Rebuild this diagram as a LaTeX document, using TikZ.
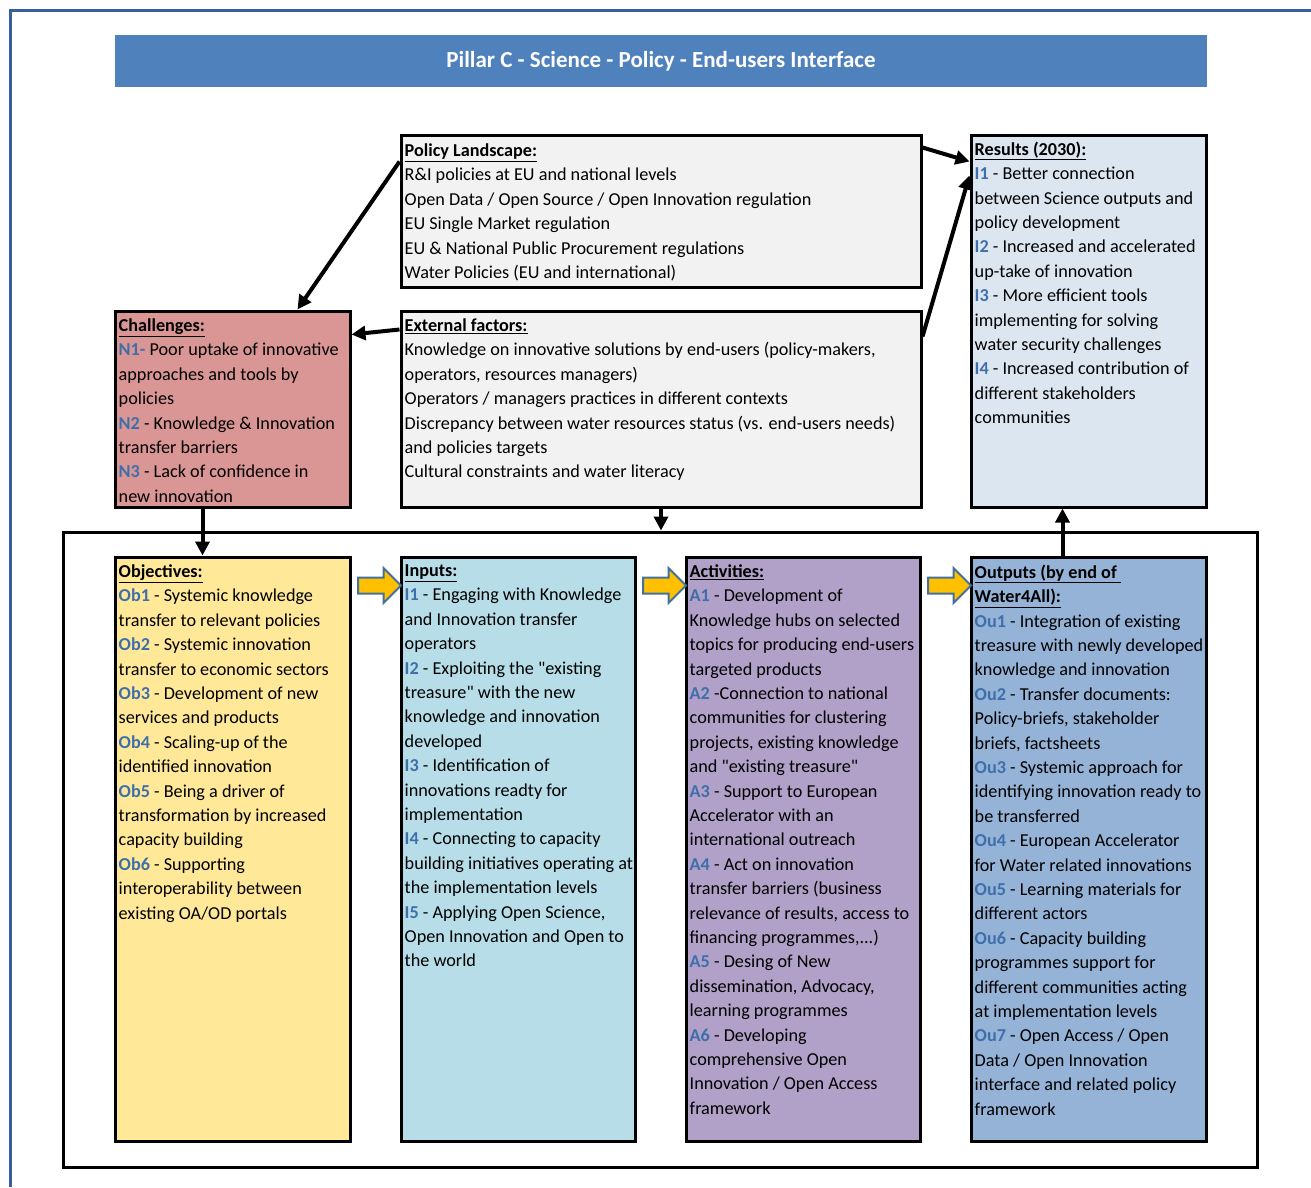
\documentclass[tikz,border=0pt]{standalone}
\usepackage{fontspec}
\setmainfont{Carlito}
\usepackage{xcolor}
\usepackage{tikz}
\usetikzlibrary{shapes,arrows.meta,positioning,calc}

\definecolor{pagefrm}{HTML}{3A5DA0}
\definecolor{pillar}{HTML}{4F81BD}
\definecolor{lblblue}{HTML}{3F6FAA}
\definecolor{greybox}{HTML}{F2F2F2}
\definecolor{resfill}{HTML}{DCE6F1}
\definecolor{chalfill}{HTML}{DA9694}
\definecolor{objfill}{HTML}{FFE999}
\definecolor{inpfill}{HTML}{B7DEE8}
\definecolor{actfill}{HTML}{B1A0C7}
\definecolor{outfill}{HTML}{95B3D7}
\definecolor{fatyellow}{HTML}{FFC000}
\definecolor{fatblue}{HTML}{41719C}

\newcommand{\lbl}[1]{\textcolor{lblblue}{\textbf{#1}}}
\newcommand{\hdr}[1]{\underline{\textbf{#1}}}
\newcommand{\qt}{\XeTeXglyph\XeTeXcharglyph"22\relax}

\begin{document}
\begin{tikzpicture}[x=1pt, y=-1pt,
    box/.style={draw, rectangle, line width=3pt, inner sep=0pt},
    txt/.style={anchor=north west, align=left, inner sep=0pt, font=\fontsize{18.2}{24.4}\selectfont},
    arr/.style={-{Triangle[length=14pt,width=14pt]}, line width=4pt},
    fat/.style={single arrow, draw=fatblue, fill=fatyellow, line width=2pt, inner sep=7pt,
                minimum height=43pt, single arrow head extend=9.5pt}
]
    \useasboundingbox (0,0) rectangle (1311,1187);

    % Page frame
    \draw[pagefrm, line width=3pt] (10,1187) -- (10,10) -- (1311,10);

    % Title bar
    \node[fill=pillar, minimum width=1092pt, minimum height=52pt, text=white,
          font=\fontsize{23}{26}\selectfont\bfseries] (title) at (661,61)
          {Pillar C - Science - Policy - End-users Interface};

    % Policy landscape
    \node[box, fill=greybox, minimum width=520pt, minimum height=152pt] (policy) at (661,211) {};
    \node[txt] (policytxt) at ([shift={(5pt,-10pt)}]policy.north west) {\hdr{Policy Landscape:}\\
        R\&I policies at EU and national levels\\
        Open Data / Open Source / Open Innovation regulation\\
        EU Single Market regulation\\
        EU \& National Public Procurement regulations\\
        Water Policies (EU and international)};

    % Results
    \node[box, fill=resfill, minimum width=235pt, minimum height=372pt] (results) at (1088.5,321) {};
    \node[txt] (resultstxt) at ([shift={(5pt,-8pt)}]results.north west) {\hdr{Results (2030):}\\
        \lbl{I1} - Better connection\\
        between Science outputs and\\
        policy development\\
        \lbl{I2} - Increased and accelerated\\
        up-take of innovation\\
        \lbl{I3} - More efficient tools\\
        implementing for solving\\
        water security challenges\\
        \lbl{I4} - Increased contribution of\\
        different stakeholders\\
        communities};

    % Challenges
    \node[box, fill=chalfill, minimum width=235pt, minimum height=196pt] (chal) at (232.5,409) {};
    \node[txt] (chaltxt) at ([shift={(5pt,-9pt)}]chal.north west) {\hdr{Challenges:}\\
        \lbl{N1-} Poor uptake of innovative\\
        approaches and tools by\\
        policies\\
        \lbl{N2} - Knowledge \& Innovation\\
        transfer barriers\\
        \lbl{N3} - Lack of confidence in\\
        new innovation};

    % External factors
    \node[box, fill=greybox, minimum width=520pt, minimum height=196pt] (ext) at (661,409) {};
    \node[txt] (exttxt) at ([shift={(5pt,-9pt)}]ext.north west) {\hdr{External factors:}\\
        Knowledge on innovative solutions by end-users (policy-makers,\\
        operators, resources managers)\\
        Operators / managers practices in different contexts\\
        Discrepancy between water resources status (vs. end-users needs)\\
        and policies targets\\
        Cultural constraints and water literacy};

    % Lower frame
    \node[box, minimum width=1194pt, minimum height=635pt] (frame) at (660,849.5) {};

    % Objectives
    \node[box, fill=objfill, minimum width=235pt, minimum height=584pt] (obj) at (232.5,849) {};
    \node[txt] (objtxt) at ([shift={(5pt,-9pt)}]obj.north west) {\hdr{Objectives:}\\
        \lbl{Ob1} - Systemic knowledge\\
        transfer to relevant policies\\
        \lbl{Ob2} - Systemic innovation\\
        transfer to economic sectors\\
        \lbl{Ob3} - Development of new\\
        services and products\\
        \lbl{Ob4} - Scaling-up of the\\
        identified innovation\\
        \lbl{Ob5} - Being a driver of\\
        transformation by increased\\
        capacity building\\
        \lbl{Ob6} - Supporting\\
        interoperability between\\
        existing OA/OD portals};

    % Inputs
    \node[box, fill=inpfill, minimum width=234pt, minimum height=584pt] (inp) at (518,849) {};
    \node[txt] (inptxt) at ([shift={(5pt,-9pt)}]inp.north west) {\hdr{Inputs:}\\
        \lbl{I1} - Engaging with Knowledge\\
        and Innovation transfer\\
        operators\\
        \lbl{I2} - Exploiting the \qt existing\\
        treasure\qt{} with the new\\
        knowledge and innovation\\
        developed\\
        \lbl{I3} - Identification of\\
        innovations readty for\\
        implementation\\
        \lbl{I4} - Connecting to capacity\\
        building initiatives operating at\\
        the implementation levels\\
        \lbl{I5} - Applying Open Science,\\
        Open Innovation and Open to\\
        the world};

    % Activities
    \node[box, fill=actfill, minimum width=234pt, minimum height=584pt] (act) at (803,849) {};
    \node[txt] (acttxt) at ([shift={(5pt,-9pt)}]act.north west) {\hdr{Activities:}\\
        \lbl{A1} - Development of\\
        Knowledge hubs on selected\\
        topics for producing end-users\\
        targeted products\\
        \lbl{A2} -Connection to national\\
        communities for clustering\\
        projects, existing knowledge\\
        and \qt existing treasure\qt\\
        \lbl{A3} - Support to European\\
        Accelerator with an\\
        international outreach\\
        \lbl{A4} - Act on innovation\\
        transfer barriers (business\\
        relevance of results, access to\\
        financing programmes,...)\\
        \lbl{A5} - Desing of New\\
        dissemination, Advocacy,\\
        learning programmes\\
        \lbl{A6} - Developing\\
        comprehensive Open\\
        Innovation / Open Access\\
        framework};

    % Outputs
    \node[box, fill=outfill, minimum width=235pt, minimum height=584pt] (outp) at (1088.5,849) {};
    \node[txt] (outptxt) at ([shift={(5pt,-9pt)}]outp.north west) {\hdr{Outputs (by end of }\\
        \hdr{Water4All):}\\
        \lbl{Ou1} - Integration of existing\\
        treasure with newly developed\\
        knowledge and innovation\\
        \lbl{Ou2} - Transfer documents:\\
        Policy-briefs, stakeholder\\
        briefs, factsheets\\
        \lbl{Ou3} - Systemic approach for\\
        identifying innovation ready to\\
        be transferred\\
        \lbl{Ou4} - European Accelerator\\
        for Water related innovations\\
        \lbl{Ou5} - Learning materials for\\
        different actors\\
        \lbl{Ou6} - Capacity building\\
        programmes support for\\
        different communities acting\\
        at implementation levels\\
        \lbl{Ou7} - Open Access / Open\\
        Data / Open Innovation\\
        interface and related policy\\
        framework};

    % Block arrows between columns
    \node[fat] (fat1) at ($(obj.north east)!.5!(inp.north west)+(0,30)$) {};
    \node[fat] (fat2) at ($(inp.north east)!.5!(act.north west)+(0,30)$) {};
    \node[fat] (fat3) at ($(act.north east)!.5!(outp.north west)+(0,30)$) {};

    % Arrows
    \draw[arr] ([yshift=-28pt]policy.north west) -- ([xshift=65pt]chal.north);
    \draw[arr] ([yshift=-14pt]policy.north east) -- ([yshift=-28pt]results.north west);
    \draw[arr] ([yshift=-27pt]ext.north east) -- ([yshift=-42pt]results.north west);
    \draw[arr] ([yshift=-20pt]ext.north west) -- ([yshift=-25pt]chal.north east);
    \draw[arr] ([xshift=-30pt]chal.south) -- ([xshift=-30pt]obj.north);
    \draw[arr] (ext.south) -- (ext.south |- frame.north);
    \draw[arr] ([xshift=-26pt]outp.north) -- ([xshift=-26pt]results.south);
\end{tikzpicture}
\end{document}
